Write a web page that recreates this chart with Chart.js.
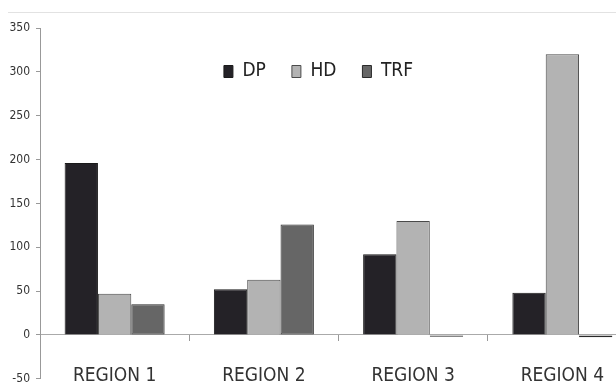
<!DOCTYPE html>
<html>
<head>
<meta charset="utf-8">
<script src="https://cdn.jsdelivr.net/npm/chart.js@4/dist/chart.umd.min.js"></script>
<style>
  html, body { margin: 0; padding: 0; background: #fff; overflow: hidden; }
  #wrap { position: relative; width: 640px; height: 392px; }
  #topline { position: absolute; left: 8px; top: 12px; width: 608px; height: 1px; background: #e2e2e2; }
</style>
</head>
<body>
<div id="wrap">
  <div id="topline"></div>
  <canvas id="chart"></canvas>
</div>
<script>
const REGIONS = ['REGION 1', 'REGION 2', 'REGION 3', 'REGION 4'];
const DP = [196, 52, 92, 48];
const HD = [47, 63, 130, 320];
const TRF = [35, 126, -2, -2.5];

const FONT = "'Liberation Sans Narrow', 'DejaVu Sans Condensed', sans-serif";

// legend sits inside the plot, so it must not take layout height
const legendInPlot = {
    id: 'legendInPlot',
    beforeLayout(chart) {
        const lg = chart.legend;
        if (lg && !lg._inPlot) {
            const fit = lg.fit.bind(lg);
            lg.fit = function () { fit(); this._h = this.height; this.height = 0; };
            lg._inPlot = true;
        }
    },
    afterLayout(chart) {
        const lg = chart.legend;
        lg.top = 36;
        lg.height = lg._h;
        lg.bottom = lg.top + lg._h;
    }
};

new Chart(
    document.getElementById('chart'),
    {
        type: 'bar',
        data: {
            labels: REGIONS,
            datasets: [
                { label: 'DP', data: DP, backgroundColor: '#242227', borderColor: '#1a1a1a', borderWidth: 1 },
                { label: 'HD', data: HD, backgroundColor: '#b3b3b3', borderColor: '#4a4a4a', borderWidth: 1 },
                { label: 'TRF', data: TRF, backgroundColor: '#666666', borderColor: '#2a2a2a', borderWidth: 1, borderSkipped: false },
            ]
        },
        options: {
            responsive: true,
            maintainAspectRatio: false,
            animation: false,
            layout: { padding: { top: 28, bottom: 4, left: 0, right: 3 } },
            datasets: { bar: { categoryPercentage: 0.67, barPercentage: 1 } },
            scales: {
                x: {
                    position: { y: 0 },
                    grid: { drawOnChartArea: false, offset: true, tickLength: 6, color: '#999' },
                    border: { color: '#aaa' },
                    ticks: { color: '#333', padding: 24, font: { family: FONT, size: 19 } },
                },
                y: {
                    min: -50,
                    max: 350,
                    ticks: { stepSize: 50, color: '#333', padding: 6, font: { family: FONT, size: 12 } },
                    grid: { drawOnChartArea: false, tickLength: 4, color: '#999' },
                    border: { color: '#999' },
                    afterFit: scale => { scale.width = 40; },
                },
            },
            plugins: {
                legend: {
                    position: 'top',
                    align: 'center',
                    labels: {
                        color: '#222',
                        boxWidth: 9,
                        boxHeight: 12,
                        padding: 26,
                        font: { family: FONT, size: 19 },
                    },
                },
                tooltip: { enabled: false },
            }
        },
        plugins: [legendInPlot]
    }
);
</script>
</body>
</html>
